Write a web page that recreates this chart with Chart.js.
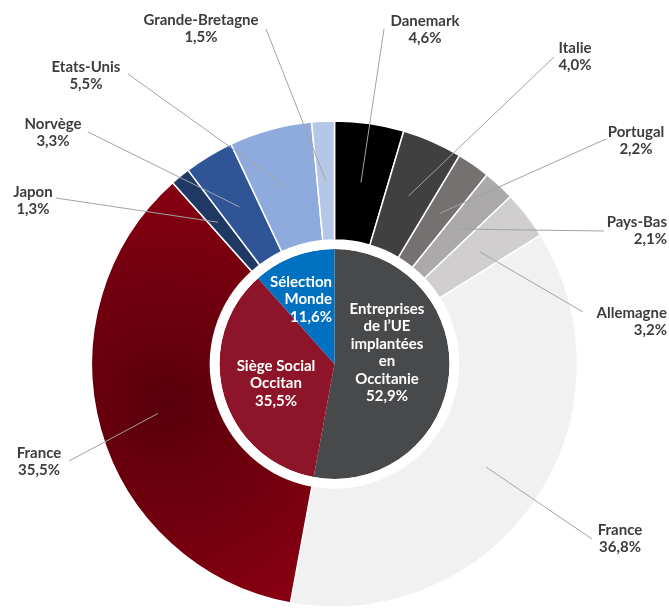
<!DOCTYPE html>
<html lang="fr">
<head>
<meta charset="utf-8">
<title>Répartition des entreprises</title>
<script src="https://cdn.jsdelivr.net/npm/chart.js@4/dist/chart.umd.min.js"></script>
<style>
  body { margin: 0; background: #fff; }
  canvas { display: block; }
</style>
</head>
<body>
<canvas id="donut" width="669" height="608"></canvas>
<script>
"use strict"
//Données - couronne extérieure (pays)
const paysExt = ["Danemark", "Italie", "Portugal", "Pays-Bas", "Allemagne", "France", "France", "Japon", "Norvège", "Etats-Unis", "Grande-Bretagne"];
const valeursExt = [4.6, 4.0, 2.2, 2.1, 3.2, 36.8, 35.5, 1.3, 3.3, 5.5, 1.5];
const couleursExt = ["#000000", "#404040", "#767171", "#aba9a9", "#d0cece", "#f1f1f1", "#7f000e", "#1f3864", "#2f5597", "#8faadc", "#b4c7e7"];

//Données - disque intérieur (groupes)
const groupesInt = [["Entreprises", "de l’UE", "implantées", "en", "Occitanie"], ["Siège Social", "Occitan"], ["Sélection", "Monde"]];
const valeursInt = [52.9, 35.5, 11.6];
const couleursInt = ["#48494b", "#8e1529", "#0070c0"];

//Placement des étiquettes: [x texte, y texte, alignement, x fin de trait, y fin de trait]
const placeExt = [
    [425, 21, "center", 384, 29],
    [575, 48, "center", 554, 57],
    [636, 132, "center", 606, 139],
    [667, 222, "right", 604, 231],
    [667, 313, "right", 583, 312],
    [620, 530, "center", 592, 539],
    [39, 453, "center", 69, 461],
    [33, 192, "center", 56, 198],
    [53, 124, "center", 88, 132],
    [86, 67, "center", 128, 74],
    [201, 20, "center", 266, 29]
];
const placeInt = [[387, 309, "center"], [276, 366, "center"], [332, 282, "right"]];

function pct(v) {
    return v.toFixed(1).replace(".", ",") + "%";
}

//dégradé du secteur France (rouge)
function couleurExt(c) {
    if (c.dataIndex !== 6 || !c.chart.chartArea) {
        return couleursExt[c.dataIndex];
    }
    const area = c.chart.chartArea;
    const cx = (area.left + area.right) / 2;
    const cy = (area.top + area.bottom) / 2;
    const g = c.chart.ctx.createRadialGradient(cx - 170, cy + 40, 0, cx - 170, cy + 40, 240);
    g.addColorStop(0, "#58000a");
    g.addColorStop(1, "#8a0012");
    return g;
}

//Étiquettes et traits de rappel
const etiquettes = {
    id: "etiquettes",
    afterDatasetsDraw(chart) {
        const ctx = chart.ctx;
        const arcs = chart.getDatasetMeta(0).data;
        ctx.save();
        ctx.strokeStyle = "#a3a3a3";
        ctx.lineWidth = 1;
        arcs.forEach((arc, i) => {
            const p = arc.tooltipPosition();
            const pl = placeExt[i];
            ctx.beginPath();
            ctx.moveTo(pl[3], pl[4]);
            ctx.lineTo(p.x, p.y);
            ctx.stroke();
        });

        ctx.font = "bold 15px Lato";
        ctx.fillStyle = "#3d3d3d";
        ctx.textBaseline = "middle";
        paysExt.forEach((nom, i) => {
            const pl = placeExt[i];
            ctx.textAlign = pl[2];
            ctx.fillText(nom, pl[0], pl[1]);
            ctx.fillText(pct(valeursExt[i]), pl[0], pl[1] + 17.5);
        });

        ctx.fillStyle = "#ffffff";
        groupesInt.forEach((lignes, i) => {
            const pl = placeInt[i];
            ctx.textAlign = pl[2];
            const tout = lignes.concat([pct(valeursInt[i])]);
            tout.forEach((t, k) => {
                ctx.fillText(t, pl[0], pl[1] + k * 17.5);
            });
        });
        ctx.restore();
    }
};

const chart = new Chart(document.getElementById("donut"), {
    type: "doughnut",
    data: {
        labels: paysExt,
        datasets: [{
            data: valeursExt,
            backgroundColor: couleurExt,
            borderColor: "#ffffff",
            borderWidth: 1.5,
            weight: 119
        }, {
            data: [1],
            backgroundColor: "#ffffff",
            borderWidth: 0,
            weight: 9
        }, {
            data: valeursInt,
            backgroundColor: couleursInt,
            borderWidth: 0,
            weight: 115
        }]
    },
    options: {
        responsive: false,
        animation: false,
        events: [],
        cutout: 0,
        radius: 243,
        layout: { padding: { top: 120 } },
        plugins: {
            legend: { display: false },
            tooltip: { enabled: false }
        }
    },
    plugins: [etiquettes]
});
</script>
</body>
</html>
